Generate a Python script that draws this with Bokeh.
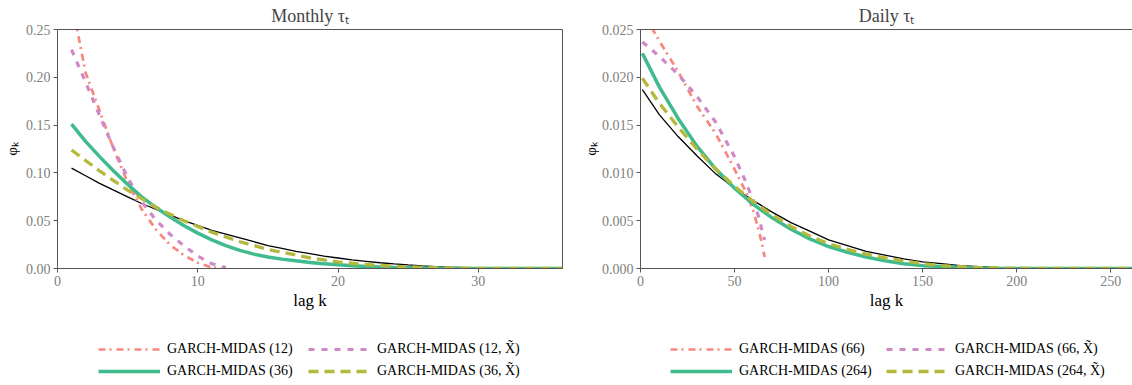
from bokeh.plotting import figure
from bokeh.models import (Legend, LegendItem, FixedTicker, NumeralTickFormatter,
                          Range1d, LinearAxis)
from bokeh.layouts import row, column
from bokeh.embed import file_html
from bokeh.resources import INLINE

# ---------------- data ----------------
# Monthly tau_t
m_k12 = list(range(1, 13))
m_k36 = list(range(1, 37))
m_12 = [0.28, 0.205, 0.165, 0.125, 0.090, 0.062, 0.041, 0.025, 0.014, 0.006, 0.001, 0.0]
m_12x = [0.229, 0.195, 0.160, 0.126, 0.095, 0.070, 0.051, 0.036, 0.024, 0.013, 0.005, 0.001]
m_36 = [0.151, 0.133, 0.117, 0.102, 0.088, 0.075, 0.064, 0.054, 0.045, 0.037,
        0.030, 0.024, 0.019, 0.015, 0.012, 0.0098, 0.0080, 0.0063, 0.0050, 0.0040,
        0.0030, 0.0022, 0.0016, 0.0011, 0.0008, 0.0005, 0.0003, 0.0002, 0.0001, 0.00005,
        0.0, 0.0, 0.0, 0.0, 0.0, 0.0]
m_36x = [0.124, 0.113, 0.102, 0.092, 0.082, 0.073, 0.064, 0.057, 0.050, 0.044,
         0.038, 0.033, 0.028, 0.024, 0.020, 0.017, 0.014, 0.011, 0.009, 0.007,
         0.0055, 0.0042, 0.0032, 0.0024, 0.0017, 0.0012, 0.0008, 0.0005, 0.0003, 0.0002,
         0.0001, 0.0, 0.0, 0.0, 0.0, 0.0]
m_ref = [0.105, 0.097, 0.089, 0.082, 0.075, 0.068, 0.062, 0.056, 0.050, 0.045,
         0.040, 0.036, 0.032, 0.028, 0.024, 0.021, 0.018, 0.0155, 0.013, 0.011,
         0.009, 0.0075, 0.006, 0.0048, 0.0037, 0.0028, 0.002, 0.0014, 0.001, 0.0006,
         0.0003, 0.0002, 0.0001, 0.0, 0.0, 0.0]

# Daily tau_t
d_k66 = [1, 6, 10, 20, 30, 40, 50, 57, 60, 63, 65, 66]
d_66 = [0.0268, 0.0252, 0.0238, 0.0206, 0.0170, 0.0141, 0.0104, 0.0076, 0.0060, 0.0039, 0.0022, 0.0012]
d_k66x = [1, 10, 20, 30, 40, 50, 55, 60, 63, 65, 66]
d_66x = [0.0237, 0.0222, 0.0203, 0.0180, 0.0153, 0.0117, 0.0095, 0.0071, 0.0053, 0.0037, 0.0030]
d_k264 = [1, 10, 20, 30, 40, 50, 60, 70, 80, 90, 100, 110, 120, 130, 140, 150,
          160, 170, 180, 190, 200, 220, 240, 264]
d_264 = [0.0225, 0.0190, 0.0157, 0.0128, 0.0104, 0.0084, 0.0067, 0.0053, 0.0041, 0.0031,
         0.0023, 0.0017, 0.0012, 0.0008, 0.0005, 0.0003, 0.0002, 0.0001, 0.00006, 0.00003,
         0.00001, 0.0, 0.0, 0.0]
d_264x = [0.0199, 0.0173, 0.0148, 0.0125, 0.0104, 0.0086, 0.0070, 0.0056, 0.0044, 0.0034,
          0.0026, 0.0020, 0.0015, 0.0011, 0.0008, 0.0005, 0.0003, 0.0002, 0.0001, 0.00006,
          0.00003, 0.0, 0.0, 0.0]
d_ref = [0.0187, 0.0161, 0.0138, 0.0118, 0.0099, 0.0084, 0.0071, 0.0059, 0.0048, 0.0039,
         0.0030, 0.0024, 0.0018, 0.0014, 0.0010, 0.0007, 0.0005, 0.0003, 0.0002, 0.0001,
         0.00005, 0.0, 0.0, 0.0]

m_xticks = [0, 10, 20, 30]
m_yticks = [0.0, 0.05, 0.10, 0.15, 0.20, 0.25]
d_xticks = [0, 50, 100, 150, 200, 250]
d_yticks = [0.0, 0.005, 0.010, 0.015, 0.020, 0.025]

m_labels = ["GARCH-MIDAS (12)", "GARCH-MIDAS (12, X̃)",
            "GARCH-MIDAS (36)", "GARCH-MIDAS (36, X̃)"]
d_labels = ["GARCH-MIDAS (66)", "GARCH-MIDAS (66, X̃)",
            "GARCH-MIDAS (264)", "GARCH-MIDAS (264, X̃)"]

# ---------------- style ----------------
SERIF = "Liberation Serif"
SPINE = "#555555"
TICKLBL = "#808080"
C_SALMON = "#F7877F"
C_PINK = "#CF8AC6"
C_GREEN = "#3FBB8D"
C_OLIVE = "#B4B83C"
STYLES = [  # (colour, width, dash) for: (short), (short, X~), (long), (long, X~)
    (C_SALMON, 2.7, "7 4 2 5"),
    (C_PINK, 3.2, "6 7"),
    (C_GREEN, 3.5, "solid"),
    (C_OLIVE, 3.3, "10 6"),
]


def style_axis(ax):
    ax.axis_line_color = SPINE
    ax.major_tick_line_color = SPINE
    ax.major_tick_out = 4
    ax.major_tick_in = 0
    ax.minor_tick_out = 0
    ax.minor_tick_in = 0
    ax.major_label_text_font = SERIF
    ax.major_label_text_font_size = "14px"
    ax.major_label_text_color = TICKLBL
    ax.major_label_standoff = 3
    ax.axis_label_text_font = SERIF
    ax.axis_label_text_font_style = "normal"
    ax.axis_label_text_color = "black"


def blank_axis():
    return LinearAxis(ticker=FixedTicker(ticks=[]), axis_line_color=SPINE,
                      major_tick_out=0, minor_tick_out=0, major_tick_in=0,
                      minor_tick_in=0)


def make_fig(title, xmax, ytop, xticks, yticks, yfmt, fw, ml, mr, ylab_standoff, right_spine):
    p = figure(frame_width=fw, frame_height=239,
               x_range=Range1d(0, xmax), y_range=Range1d(0, ytop),
               min_border_left=ml, min_border_right=mr, min_border_top=22,
               min_border_bottom=0, output_backend="svg", toolbar_location=None,
               title=title)
    p.title.text_font = SERIF
    p.title.text_font_size = "18px"
    p.title.text_font_style = "normal"
    p.title.align = "center"
    p.title.standoff = 7
    p.xgrid.visible = False
    p.ygrid.visible = False
    p.outline_line_color = None
    p.background_fill_color = "white"
    p.border_fill_color = "white"
    p.xaxis.ticker = FixedTicker(ticks=xticks)
    p.yaxis.ticker = FixedTicker(ticks=yticks)
    p.yaxis.formatter = NumeralTickFormatter(format=yfmt)
    p.xaxis.axis_label = "lag k"
    p.yaxis.axis_label = "φₖ"
    style_axis(p.xaxis[0])
    style_axis(p.yaxis[0])
    p.xaxis.axis_label_text_font_size = "17px"
    p.yaxis.axis_label_text_font_size = "15px"
    p.xaxis.axis_label_standoff = 2
    p.yaxis.axis_label_standoff = ylab_standoff
    p.add_layout(blank_axis(), "above")
    if right_spine:
        p.add_layout(blank_axis(), "right")
    return p


def add_lines(p, refv, series):
    p.line(series[2][0], refv, line_color="black", line_width=1.3)
    for (ks, vs), (col, lw, dash) in zip(series, STYLES):
        p.line(ks, vs, line_color=col, line_width=lw, line_dash=dash)


def make_legend_fig(labels, series, width, leg_x, label_w):
    # legend-only panel; its proxy lines use the same series but lie outside its view
    f = figure(width=width, height=69, x_range=Range1d(0, 1), y_range=Range1d(10, 11),
               x_axis_type=None, y_axis_type=None, min_border=0,
               output_backend="svg", toolbar_location=None)
    f.outline_line_color = None
    f.xgrid.visible = False
    f.ygrid.visible = False
    rs = []
    for (ks, vs), (col, lw, dash) in zip(series, STYLES):
        rs.append(f.line(ks, vs, line_color=col, line_width=lw, line_dash=dash))
    order = [0, 2, 1, 3]
    items = [LegendItem(label=labels[i], renderers=[rs[i]]) for i in order]
    leg = Legend(items=items, location=(leg_x, 2), ncols=2, glyph_width=62,
                 glyph_height=16, label_height=16, label_width=label_w,
                 label_standoff=7, spacing=6, padding=0, margin=0,
                 border_line_color=None, background_fill_alpha=0,
                 label_text_font=SERIF, label_text_font_size="14px",
                 label_text_color="black")
    f.add_layout(leg)
    return f


m_series = [(m_k12, m_12), (m_k12, m_12x), (m_k36, m_36), (m_k36, m_36x)]
d_series = [(d_k66, d_66), (d_k66x, d_66x), (d_k264, d_264), (d_k264, d_264x)]

p1 = make_fig("Monthly τₜ", 36, 0.25, m_xticks, m_yticks, "0.00", 505, 49, 17, 3, True)
add_lines(p1, m_ref, m_series)
l1 = make_legend_fig(m_labels, m_series, 560, 41, 135)

p2 = make_fig("Daily τₜ", 261.6, 0.025, d_xticks, d_yticks, "0.000", 492, 56, 0, 0, False)
add_lines(p2, d_ref, d_series)
l2 = make_legend_fig(d_labels, d_series, 540, 30, 141)

layout = row(column(p1, l1), column(p2, l2))
open("out.html", "w").write(file_html(layout, INLINE))
